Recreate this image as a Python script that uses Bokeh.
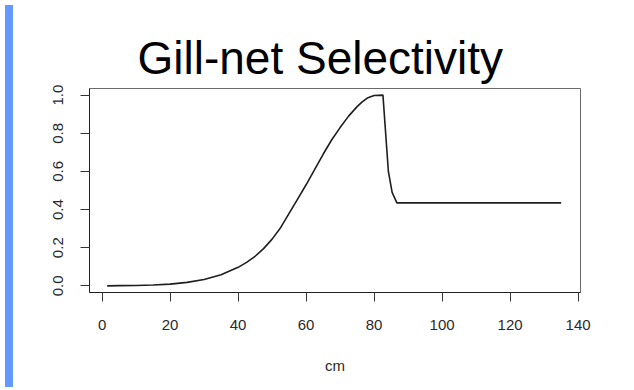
from bokeh.plotting import figure
from bokeh.models import Range1d, FixedTicker, Div
from bokeh.layouts import row
from bokeh.embed import file_html
from bokeh.resources import INLINE

# --- data ---
length_cm = [1.5, 5, 10, 15, 20, 25, 30, 35, 40, 42.5, 45, 47.5, 50, 52.5, 55, 57.5,
             60, 62.5, 65, 67.5, 70, 72.5, 75, 76.5, 78, 80,
             82.6, 84.2, 85.3, 86.7, 135]
selectivity = [0.0, 0.001, 0.002, 0.004, 0.009, 0.018, 0.033, 0.058, 0.097, 0.123,
               0.155, 0.195, 0.245, 0.305, 0.38, 0.455,
               0.53, 0.61, 0.69, 0.765, 0.83, 0.89, 0.94, 0.965, 0.985, 0.998,
               1.0, 0.60, 0.49, 0.435, 0.435]
x_ticks = [0, 20, 40, 60, 80, 100, 120, 140]
y_ticks = [0.0, 0.2, 0.4, 0.6, 0.8, 1.0]
title_text = "Gill-net Selectivity"
x_label = "cm"

FONT = "Liberation Sans"

p = figure(width=618, height=382, output_backend="svg", toolbar_location=None,
           x_range=Range1d(-3.7, 140.7), y_range=Range1d(-0.035, 1.035),
           min_border_left=71, min_border_right=56, min_border_top=88,
           min_border_bottom=90)

p.title.text = title_text
p.title.text_font = FONT
p.title.text_font_size = "46px"
p.title.text_font_style = "normal"
p.title.text_color = "black"
p.title.align = "left"
p.title.offset = 48
p.title.standoff = 10

p.grid.visible = False
p.outline_line_color = "#6a6a6a"
p.outline_line_width = 1
p.background_fill_color = "white"
p.border_fill_color = "white"

for ax in (p.xaxis[0], p.yaxis[0]):
    ax.axis_line_color = "#222222"
    ax.major_tick_line_color = "#333333"
    ax.major_tick_in = 0
    ax.major_tick_out = 9
    ax.minor_tick_line_color = None
    ax.major_label_text_font = FONT
    ax.major_label_text_font_size = "15px"
    ax.major_label_text_color = "#2a2a2a"

p.xaxis[0].ticker = FixedTicker(ticks=x_ticks)
p.xaxis[0].major_label_standoff = 18
p.xaxis[0].axis_label = x_label
p.xaxis[0].axis_label_text_font = FONT
p.xaxis[0].axis_label_text_font_size = "15px"
p.xaxis[0].axis_label_text_font_style = "normal"
p.xaxis[0].axis_label_text_color = "#2a2a2a"
p.xaxis[0].axis_label_standoff = 24

p.yaxis[0].ticker = FixedTicker(ticks=y_ticks)
p.yaxis[0].major_label_orientation = "vertical"
p.yaxis[0].major_label_standoff = 17
p.yaxis[0].major_label_overrides = {t: f"{t:.1f}" for t in y_ticks}

p.line(length_cm, selectivity, line_color="#1e1e1e", line_width=1.6)

strip = Div(width=8, height=382, styles={"background-color": "#6699ff"})
layout = row(strip, p)

open("out.html", "w").write(file_html(layout, INLINE))
